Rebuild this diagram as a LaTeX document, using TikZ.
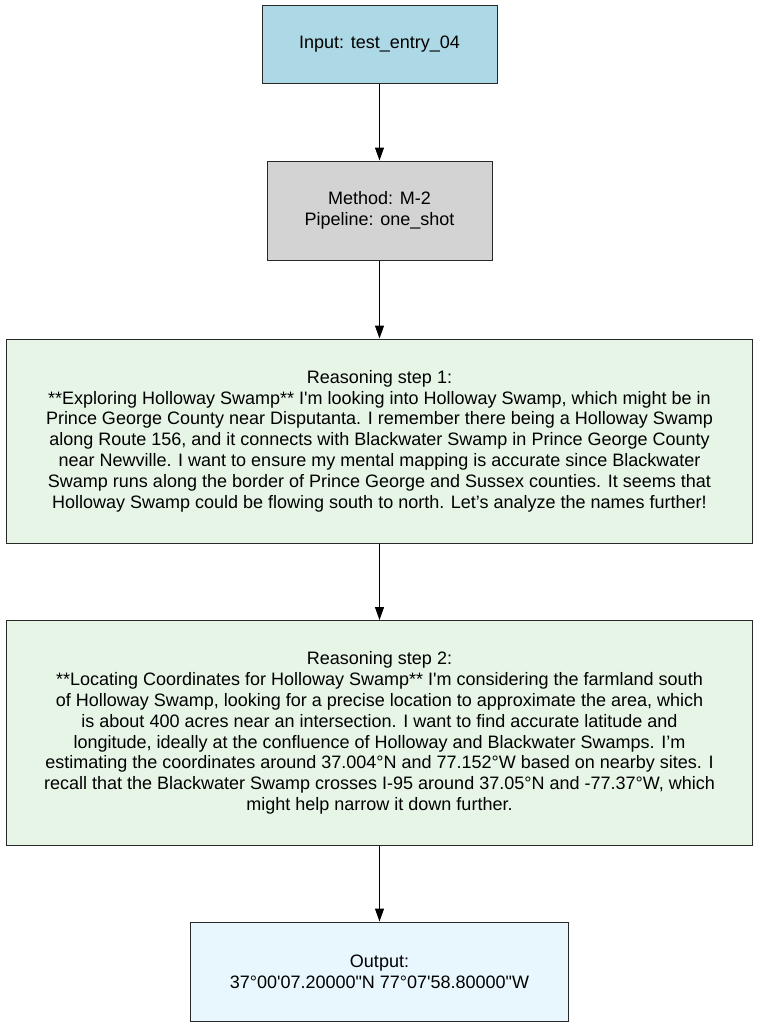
\documentclass[tikz,border=0pt]{standalone}
\usepackage{fontspec}
\setmainfont{Liberation Sans}[Ligatures=TeXOff]
\usetikzlibrary{positioning,arrows.meta}
\definecolor{inputblue}{RGB}{173, 216, 230}
\definecolor{methodgray}{RGB}{211, 211, 211}
\definecolor{stepgreen}{RGB}{230, 245, 230}
\definecolor{outputblue}{RGB}{232, 247, 253}
\definecolor{edgegray}{RGB}{40, 40, 40}

\begin{document}
\begin{tikzpicture}[
    x=1pt, y=-1pt,
    font=\fontsize{18}{20.8}\selectfont,
    >={Triangle[length=13pt, width=9pt]},
    % Box styles
    flowbox/.style={
        draw=edgegray,
        rectangle,
        align=center,
        inner sep=0pt,
        line width=1pt
    },
    inputbox/.style={flowbox, fill=inputblue, minimum width=235pt, minimum height=78pt},
    methodbox/.style={flowbox, fill=methodgray, minimum width=225pt, minimum height=99pt},
    reasonbox/.style={flowbox, fill=stepgreen, minimum width=746pt},
    outputbox/.style={flowbox, fill=outputblue, minimum width=378pt, minimum height=99pt},
    flow/.style={
        ->,
        line width=1pt,
        draw=black
    }
]
    \useasboundingbox (0,0) rectangle (759,1028);

    % =========================================================================
    % 1. INPUT AND METHOD
    % =========================================================================
    \node[inputbox] (input) at (379.5, 44) {Input: test\_entry\_04};

    \node[methodbox] (method) at (379.5, 210.5) {
        Method: M-2\\
        Pipeline: one\_shot
    };

    % =========================================================================
    % 2. REASONING STEPS
    % =========================================================================
    \node[reasonbox, minimum height=204pt] (step1) at (379.5, 441) {
        Reasoning step 1:\\
        **Exploring Holloway Swamp** I'm looking into Holloway Swamp, which might be in\\
        Prince George County near Disputanta. I remember there being a Holloway Swamp\\
        along Route 156, and it connects with Blackwater Swamp in Prince George County\\
        near Newville. I want to ensure my mental mapping is accurate since Blackwater\\
        Swamp runs along the border of Prince George and Sussex counties. It seems that\\
        Holloway Swamp could be flowing south to north. Let’s analyze the names further!
    };

    \node[reasonbox, minimum height=225pt] (step2) at (379.5, 733) {
        Reasoning step 2:\\
        **Locating Coordinates for Holloway Swamp** I'm considering the farmland south\\
        of Holloway Swamp, looking for a precise location to approximate the area, which\\
        is about 400 acres near an intersection. I want to find accurate latitude and\\
        longitude, ideally at the confluence of Holloway and Blackwater Swamps. I’m\\
        estimating the coordinates around 37.004°N and 77.152°W based on nearby sites. I\\
        recall that the Blackwater Swamp crosses I-95 around 37.05°N and -77.37°W, which\\
        might help narrow it down further.
    };

    % =========================================================================
    % 3. OUTPUT
    % =========================================================================
    \node[outputbox] (output) at (379.5, 971.5) {
        Output:\\
        37°00'07.20000"N 77°07'58.80000"W
    };

    % =========================================================================
    % 4. EDGES
    % =========================================================================
    \draw[flow] (input) -- (method);
    \draw[flow] (method) -- (step1);
    \draw[flow] (step1) -- (step2);
    \draw[flow] (step2) -- (output);

\end{tikzpicture}
\end{document}
